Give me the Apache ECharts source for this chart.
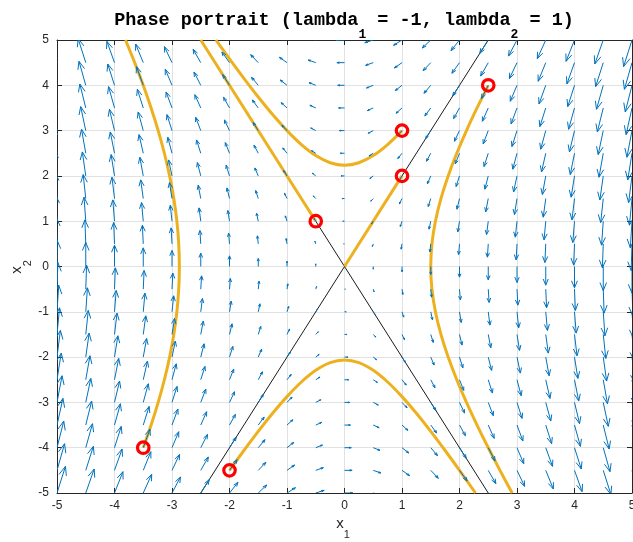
<!DOCTYPE html>
<html>
<head>
<meta charset="utf-8">
<script src="https://cdn.jsdelivr.net/npm/echarts@6/dist/echarts.min.js"></script>
<style>html,body{margin:0;padding:0;background:#fff;}#chart{width:633px;height:542px;}</style>
</head>
<body>
<div id="chart"></div>
<script>
// ---- data ----
const xGrid = [-5,-4.5,-4,-3.5,-3,-2.5,-2,-1.5,-1,-0.5,0,0.5,1,1.5,2,2.5,3,3.5,4,4.5,5];
const yGrid = [-5,-4.5,-4,-3.5,-3,-2.5,-2,-1.5,-1,-0.5,0,0.5,1,1.5,2,2.5,3,3.5,4,4.5,5];
// horizontal component of the field for each row (yGrid order)
const uByRow = [2.5,2.25,2,1.75,1.5,1.25,1,0.75,0.5,0.25,0,-0.25,-0.5,-0.75,-1,-1.25,-1.5,-1.75,-2,-2.25,-2.5];
// vertical component of the field for each column (xGrid order)
const vByCol = [10,9,8,7,6,5,4,3,2,1,0,-1,-2,-3,-4,-5,-6,-7,-8,-9,-10];

const eigenLine1 = [[-2.5,-5],[2.5,5]];
const eigenLine2 = [[-2.5,5],[2.5,-5]];

const traj1 = [[-3.5,-4],[-3.3634,-3.5],[-3.2404,-3],[-3.1325,-2.5],[-3.0414,-2],[-2.9686,-1.5],[-2.9155,-1],[-2.8831,-0.5],[-2.8723,0],[-2.8831,0.5],[-2.9155,1],[-2.9686,1.5],[-3.0414,2],[-3.1325,2.5],[-3.2404,3],[-3.3634,3.5],[-3.5,4],[-3.6486,4.5],[-3.8079,5]];
const traj2 = [[-2,-4.5],[-1.75,-4.062],[-1.5,-3.6401],[-1.25,-3.2404],[-1,-2.8723],[-0.75,-2.5495],[-0.5,-2.2913],[-0.25,-2.1213],[0,-2.0616],[0.25,-2.1213],[0.5,-2.2913],[0.75,-2.5495],[1,-2.8723],[1.25,-3.2404],[1.5,-3.6401],[1.75,-4.062],[2,-4.5],[2.2776,-5]];
const traj3 = [[-0.5,1],[-2.5,5]];
const traj4 = [[1,2],[0,0]];
const traj5 = [[1,3],[0.75,2.6926],[0.5,2.4495],[0.25,2.2913],[0,2.2361],[-0.25,2.2913],[-0.5,2.4495],[-0.75,2.6926],[-1,3],[-1.25,3.3541],[-1.5,3.7417],[-1.75,4.1533],[-2,4.5826],[-2.2361,5]];
const traj6 = [[2.5,4],[2.3049,3.5],[2.1213,3],[1.9526,2.5],[1.8028,2],[1.6771,1.5],[1.5811,1],[1.5207,0.5],[1.5,0],[1.5207,-0.5],[1.5811,-1],[1.6771,-1.5],[1.8028,-2],[1.9526,-2.5],[2.1213,-3],[2.3049,-3.5],[2.5,-4],[2.7042,-4.5],[2.9155,-5]];
const initialPoints = [[-3.5,-4],[-2,-4.5],[-0.5,1],[1,2],[1,3],[2.5,4]];

const xTicks = [-5,-4,-3,-2,-1,0,1,2,3,4,5];
const yTicks = [-5,-4,-3,-2,-1,0,1,2,3,4,5];

// ---- build ----
const quiverData = [];
for (let j = 0; j < yGrid.length; j++) {
  for (let i = 0; i < xGrid.length; i++) {
    quiverData.push([xGrid[i], yGrid[j], uByRow[j], vByCol[i]]);
  }
}
// MATLAB-like autoscale
const delx = (xGrid[xGrid.length-1]-xGrid[0]) / xGrid.length;
const dely = (yGrid[yGrid.length-1]-yGrid[0]) / yGrid.length;
const del = delx*delx + dely*dely;
let maxLen = 0;
quiverData.forEach(d => { const l = Math.sqrt((d[2]*d[2]+d[3]*d[3])/del); if (l > maxLen) maxLen = l; });
const qScale = 0.9 / maxLen;

const AXC = '#262626';
const ORANGE = '#EDB120';
const BLUE = '#0072BD';
const FONT = '"Liberation Sans", Arial, Helvetica, sans-serif';

function trajSeries(d) {
  return { type: 'line', data: d, showSymbol: false, smooth: 0.3, z: 3,
    lineStyle: { color: ORANGE, width: 3 }, silent: true, animation: false };
}
function eigSeries(d) {
  return { type: 'line', data: d, showSymbol: false, z: 2,
    lineStyle: { color: '#000', width: 0.9 }, silent: true, animation: false };
}

const chart = echarts.init(document.getElementById('chart'), null, { renderer: 'canvas' });
const axCommon = {
  type: 'value', min: -5, max: 5, interval: 1,
  axisLine: { show: true, onZero: false, lineStyle: { color: AXC, width: 1 } },
  axisTick: { show: true, inside: true, length: 5, lineStyle: { color: AXC } },
};
chart.setOption({
  animation: false,
  grid: { left: 57, right: 1, top: 40, bottom: 49, containLabel: false, outerBoundsMode: 'none' },
  xAxis: [
    Object.assign({}, axCommon, { position: 'bottom',
      axisLabel: { color: AXC, fontSize: 12, fontFamily: FONT, margin: 7, showMaxLabel: true, showMinLabel: true, hideOverlap: false,
        formatter: v => (xTicks.indexOf(v) >= 0 ? String(v) : '') },
      splitLine: { show: true, lineStyle: { color: '#e2e2e2', width: 1 } } }),
    Object.assign({}, axCommon, { position: 'top', axisLabel: { show: false }, splitLine: { show: false } })
  ],
  yAxis: [
    Object.assign({}, axCommon, { position: 'left',
      axisLabel: { color: AXC, fontSize: 12, fontFamily: FONT, margin: 8, showMaxLabel: true, showMinLabel: true, hideOverlap: false,
        formatter: v => (yTicks.indexOf(v) >= 0 ? String(v) : '') },
      splitLine: { show: true, lineStyle: { color: '#e2e2e2', width: 1 } } }),
    Object.assign({}, axCommon, { position: 'right', axisLabel: { show: false }, splitLine: { show: false } })
  ],
  series: [
    eigSeries(eigenLine1),
    eigSeries(eigenLine2),
    trajSeries(traj1), trajSeries(traj2), trajSeries(traj3),
    trajSeries(traj4), trajSeries(traj5), trajSeries(traj6),
    {
      type: 'custom', data: quiverData, clip: true, z: 4, silent: true, animation: false,
      renderItem: function (params, api) {
        const x = api.value(0), y = api.value(1);
        const u = api.value(2) * qScale, v = api.value(3) * qScale;
        const a = 0.33, b = 0.33;
        const p0 = api.coord([x, y]);
        const p1 = api.coord([x + u, y + v]);
        const h1 = api.coord([x + u - a * (u + b * v), y + v - a * (v - b * u)]);
        const h2 = api.coord([x + u - a * (u - b * v), y + v - a * (v + b * u)]);
        const st = { stroke: BLUE, lineWidth: 1, fill: null };
        return { type: 'group', children: [
          { type: 'polyline', shape: { points: [p0, p1] }, style: st },
          { type: 'polyline', shape: { points: [h1, p1, h2] }, style: st }
        ] };
      }
    },
    {
      type: 'scatter', data: initialPoints, symbol: 'circle', symbolSize: 11.5, z: 5, silent: true,
      itemStyle: { color: 'rgba(0,0,0,0)', borderColor: '#FF0000', borderWidth: 3.2, opacity: 1 }
    }
  ],
  graphic: [
    { type: 'text', x: 344, y: 20, z: 10, silent: true,
      style: { text: '{m|Phase portrait (lambda}{s|1}{m| = -1, lambda}{s|2}{m| = 1)}',
        align: 'center', verticalAlign: 'middle',
        rich: {
          m: { fontFamily: '"Liberation Mono", "DejaVu Sans Mono", monospace', fontWeight: 'bold', fontSize: 18.5, fill: '#000' },
          s: { fontFamily: '"Liberation Mono", "DejaVu Sans Mono", monospace', fontWeight: 'bold', fontSize: 13, fill: '#000', padding: [30, 0, 0, 0] }
        } } },
    { type: 'text', x: 343, y: 524, z: 10, silent: true,
      style: { text: '{m|x}{s|1}', align: 'center', verticalAlign: 'middle',
        rich: {
          m: { fontFamily: FONT, fontSize: 15, fill: AXC },
          s: { fontFamily: FONT, fontSize: 11, fill: AXC, padding: [22, 0, 0, 0] }
        } } },
    { type: 'text', x: 17, y: 267, rotation: Math.PI / 2, z: 10, silent: true,
      style: { text: '{m|x}{s|2}', align: 'center', verticalAlign: 'middle',
        rich: {
          m: { fontFamily: FONT, fontSize: 15, fill: AXC },
          s: { fontFamily: FONT, fontSize: 11, fill: AXC, padding: [22, 0, 0, 0] }
        } } }
  ]
});
</script>
</body>
</html>
